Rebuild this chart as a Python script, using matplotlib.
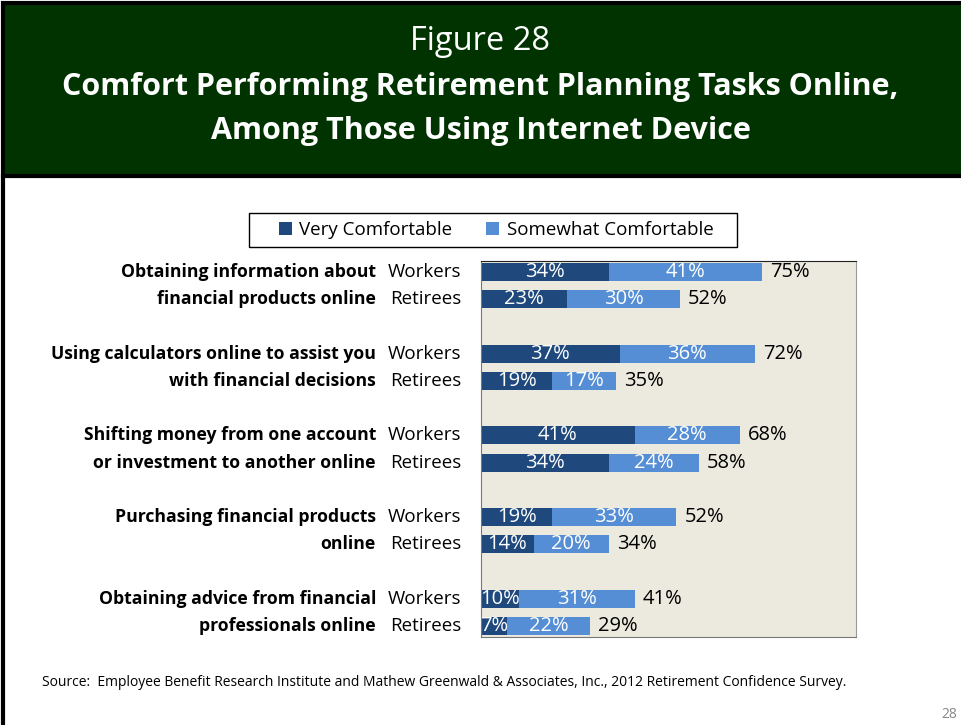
import matplotlib
matplotlib.use("Agg")
import matplotlib.pyplot as plt
from matplotlib.patches import Rectangle, Patch

plt.rcParams["font.family"] = ["Open Sans", "DejaVu Sans"]

tasks = [
    "Obtaining information about\nfinancial products online",
    "Using calculators online to assist you\nwith financial decisions",
    "Shifting money from one account\nor investment to another online",
    "Purchasing financial products\nonline",
    "Obtaining advice from financial\nprofessionals online",
]
groups = ["Workers", "Retirees"]
very_workers = [34, 37, 41, 19, 10]
very_retirees = [23, 19, 34, 14, 7]
somewhat_workers = [41, 36, 28, 33, 31]
somewhat_retirees = [30, 17, 24, 20, 22]
# published totals (rounded separately from the components)
total_workers = [75, 72, 68, 52, 41]
total_retirees = [52, 35, 58, 34, 29]

DARK = "#1F497D"
LIGHT = "#558ED5"
GREEN = "#003300"
PANEL = "#ECE9DF"

W, H = 961, 725
fig = plt.figure(figsize=(W / 100, H / 100), dpi=100)
fig.patch.set_facecolor("white")


def fx(px):
    return px / W


def fy(py):
    return 1 - py / H


# header band
fig.patches.append(Rectangle((fx(3), fy(176)), fx(965), fy(3) - fy(176), transform=fig.transFigure,
                             facecolor=GREEN, edgecolor="black", linewidth=3, zorder=0))
fig.add_artist(plt.Line2D([fx(3), fx(3)], [fy(176), 0], color="black", linewidth=3,
                          transform=fig.transFigure))
fig.text(0.5, fy(41), "Figure 28", color="white", fontsize=23.5, ha="center", va="center")
fig.text(0.5, fy(87), "Comfort Performing Retirement Planning Tasks Online,", color="white",
         fontsize=22, fontweight="bold", ha="center", va="center")
fig.text(0.5, fy(131), "Among Those Using Internet Device", color="white",
         fontsize=22, fontweight="bold", ha="center", va="center")

# bar panel
ax = fig.add_axes([fx(481), fy(637), fx(375), fy(261) - fy(637)])
ax.set_facecolor(PANEL)
ax.set_xlim(0, 100)
ax.set_ylim(13.4, -0.4)
ax.set_xticks([])
ax.set_yticks([])
for side in ["left", "bottom"]:
    ax.spines[side].set_color("#777777")
ax.spines["top"].set_color("#222222")
ax.spines["right"].set_color("#999999")

bar_h = 0.66
for i, task in enumerate(tasks):
    rows = [(very_workers[i], somewhat_workers[i], total_workers[i]),
            (very_retirees[i], somewhat_retirees[i], total_retirees[i])]
    for j, (v, s, t) in enumerate(rows):
        y = i * 3 + j
        ax.barh(y, v, height=bar_h, color=DARK)
        ax.barh(y, s, left=v, height=bar_h, color=LIGHT)
        ax.text(v / 2, y, f"{v}%", color="white", fontsize=14.5, ha="center", va="center")
        ax.text(v + s / 2, y, f"{s}%", color="white", fontsize=14.5, ha="center", va="center")
        ax.text(v + s + 2.2, y, f"{t}%", color="black", fontsize=14.5, ha="left", va="center")
        ax.text(-5.3, y, groups[j], fontsize=13.5, ha="right", va="center", clip_on=False)
    for j, line in enumerate(task.split("\n")):
        ax.text(-28, i * 3 + j, line, fontsize=12.7, fontweight="bold", ha="right", va="center",
                clip_on=False)

# legend: entries without frame, box drawn separately for wider padding
handles = [Patch(facecolor=DARK, label="Very Comfortable"),
           Patch(facecolor=LIGHT, label="Somewhat Comfortable")]
fig.legend(handles=handles, loc="center", bbox_to_anchor=(fx(496), fy(230)), ncol=2,
           frameon=False, fontsize=13.5, handlelength=0.7, handleheight=0.7,
           handletextpad=0.4, columnspacing=1.8)
fig.patches.append(Rectangle((fx(249), fy(247)), fx(737) - fx(249), fy(213) - fy(247),
                             transform=fig.transFigure, facecolor="none", edgecolor="black",
                             linewidth=1))

fig.text(fx(42), fy(683), "Source:  Employee Benefit Research Institute and Mathew Greenwald & Associates, Inc., "
         "2012 Retirement Confidence Survey.", fontsize=10, ha="left", va="center")
fig.text(fx(957), fy(715), "28", fontsize=10, color="#888888", ha="right", va="center")

fig.savefig("out.png", dpi=100)
